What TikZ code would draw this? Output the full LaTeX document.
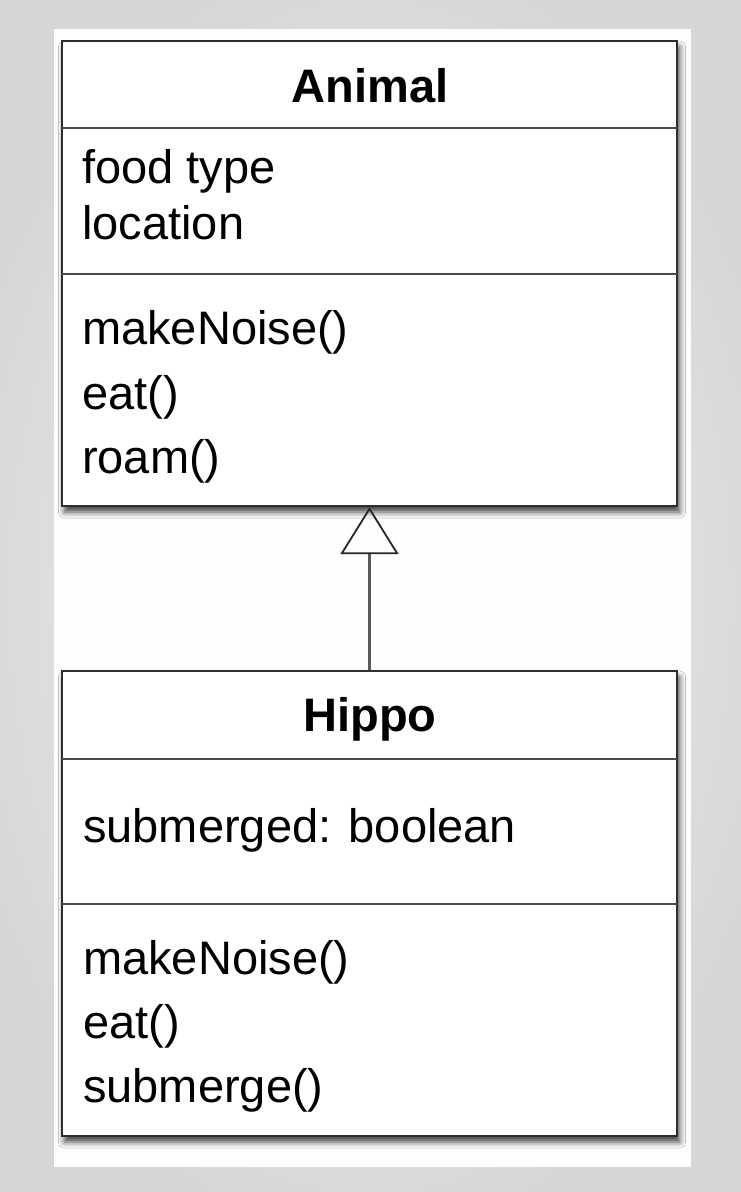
\documentclass[tikz,border=0pt]{standalone}
\usepackage{fontspec}
\setmainfont{Liberation Sans}
\usetikzlibrary{arrows.meta,shadows.blur}
\definecolor{bgouter}{HTML}{D6D6D6}
\definecolor{bginner}{HTML}{F4F4F4}
\definecolor{panel}{HTML}{FEFEFE}
\definecolor{boxline}{HTML}{2E2E2E}
\definecolor{divline}{HTML}{4A4A4A}
\definecolor{connline}{HTML}{5A5A5A}
\tikzset{
  classbox/.style={draw=boxline, line width=2.2pt, fill=white, minimum width=615pt, minimum height=465pt, inner sep=0pt,
    blur shadow={shadow xshift=2.5pt, shadow yshift=-6pt, shadow blur radius=6pt, shadow opacity=75}},
  divider/.style={draw=divline, line width=1.6pt},
  member/.style={anchor=base west, inner sep=0pt, font=\fontsize{47}{56}\selectfont},
  title/.style={anchor=base, inner sep=0pt, font=\fontsize{47}{56}\selectfont\bfseries},
  inherit/.style={draw=connline, line width=2.2pt, -{Triangle[open, length=47pt, width=58pt, line width=1.8pt, color=black!85]}}
}
\begin{document}
\begin{tikzpicture}[x=1pt, y=-1pt]
\useasboundingbox (0,0) rectangle (740,1192);
\shade[inner color=bginner, outer color=bgouter] (-60,-60) rectangle (800,1252);
\fill[panel] (54,29) rectangle (691,1167);

% Animal class
\node[classbox] (animal) at (369.5,273.5) {};
\draw[divider] (62,128) -- (677,128);
\draw[divider] (62,274) -- (677,274);
\node[title] (animalname) at (370,102) {Animal};
\node[member] (a1) at (82,183) {food type};
\node[member] (a2) at (82,239) {location};
\node[member] (a3) at (82,344) {makeNoise()};
\node[member] (a4) at (82,409) {eat()};
\node[member] (a5) at (82,473) {roam()};

% Hippo class
\node[classbox] (hippo) at (369.5,903.5) {};
\draw[divider] (62,759) -- (677,759);
\draw[divider] (62,904) -- (677,904);
\node[title] (hipponame) at (370,731) {Hippo};
\node[member] (h1) at (83,842) {submerged: boolean};
\node[member] (h2) at (83,974) {makeNoise()};
\node[member] (h3) at (83,1038) {eat()};
\node[member] (h4) at (83,1102) {submerge()};

% generalisation
\draw[inherit] (hippo.north) -- (animal.south);
\end{tikzpicture}
\end{document}
